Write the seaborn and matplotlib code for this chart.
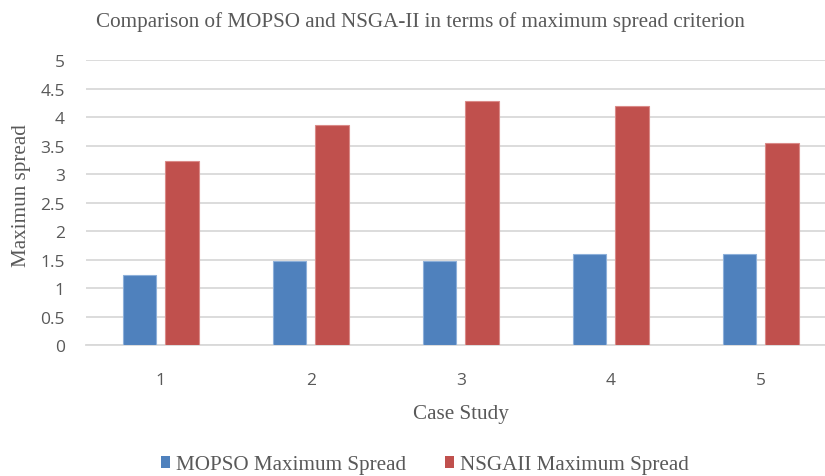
import matplotlib
matplotlib.use("Agg")
import matplotlib.pyplot as plt
import seaborn as sns
import pandas as pd
from matplotlib.patches import Patch

cases = ["1", "2", "3", "4", "5"]
mopso = [1.24, 1.47, 1.47, 1.60, 1.60]
nsga = [3.23, 3.86, 4.29, 4.19, 3.54]
series_names = ["MOPSO Maximum Spread", "NSGAII Maximum Spread"]
yticks = [0, 0.5, 1, 1.5, 2, 2.5, 3, 3.5, 4, 4.5, 5]
ytick_labels = ["0", "0.5", "1", "1.5", "2", "2.5", "3", "3.5", "4", "4.5", "5"]

df = pd.DataFrame({
    "Case": cases * 2,
    "Value": mopso + nsga,
    "Series": [series_names[0]] * len(cases) + [series_names[1]] * len(cases),
})

colors = ["#4F81BD", "#C0504D"]
edge_colors = ["#8DB0DA", "#DA8A88"]
text_gray = "#595959"
serif = ["Liberation Serif", "DejaVu Serif"]
sans = ["Open Sans", "DejaVu Sans"]

sns.set_theme(style="white")
plt.rcParams["font.family"] = sans

fig = plt.figure(figsize=(8.25, 4.77), dpi=100)
ax = fig.add_axes([85.7 / 825, (477 - 346.3) / 477, 750 / 825, (346.3 - 61) / 477])

sns.barplot(data=df, x="Case", y="Value", hue="Series", palette=colors,
            saturation=1, width=0.568, gap=0.215, ax=ax, legend=False, zorder=3)

# lighter outline on each bar
for i, container in enumerate(ax.containers):
    for bar in container:
        bar.set_edgecolor(edge_colors[i])
        bar.set_linewidth(0.8)

ax.set_ylim(0, 5)
ax.set_xlim(-0.5, 4.5)
ax.set_yticks(yticks)
ax.set_yticklabels(ytick_labels, color=text_gray, fontsize=12.5)
ax.tick_params(axis="x", colors=text_gray, labelsize=12.5, length=0, pad=19)
ax.tick_params(axis="y", length=0, pad=15)
for lbl in ax.get_xticklabels():
    lbl.set_color(text_gray)

ax.grid(axis="y", color="#D9D9D9", linewidth=1.3, zorder=0)
ax.set_axisbelow(True)
for s in ["top", "right", "left"]:
    ax.spines[s].set_visible(False)
ax.spines["bottom"].set_color("#D9D9D9")
ax.spines["bottom"].set_linewidth(1.3)

ax.set_xlabel("Case Study", fontfamily=serif, fontsize=15.2, color=text_gray, labelpad=12)
ax.set_ylabel("Maximun spread", fontfamily=serif, fontsize=15.2, color=text_gray)
ax.yaxis.set_label_coords(-55 / 750, 0.53)

fig.text(420 / 825, 1 - 22 / 477,
         "Comparison of MOPSO and NSGA-II in terms of maximum spread criterion",
         ha="center", va="center", fontfamily=serif, fontsize=15.2, color=text_gray)

handles = [Patch(facecolor=c, edgecolor="none") for c in colors]
fig.legend(handles, series_names, loc="center", bbox_to_anchor=(425 / 825, 1 - 466 / 477),
           ncol=2, frameon=False, handlelength=0.45, handleheight=0.45, handletextpad=0.3,
           columnspacing=1.8, prop={"family": serif, "size": 15.2}, labelcolor=text_gray)

fig.savefig("out.png", dpi=100)
